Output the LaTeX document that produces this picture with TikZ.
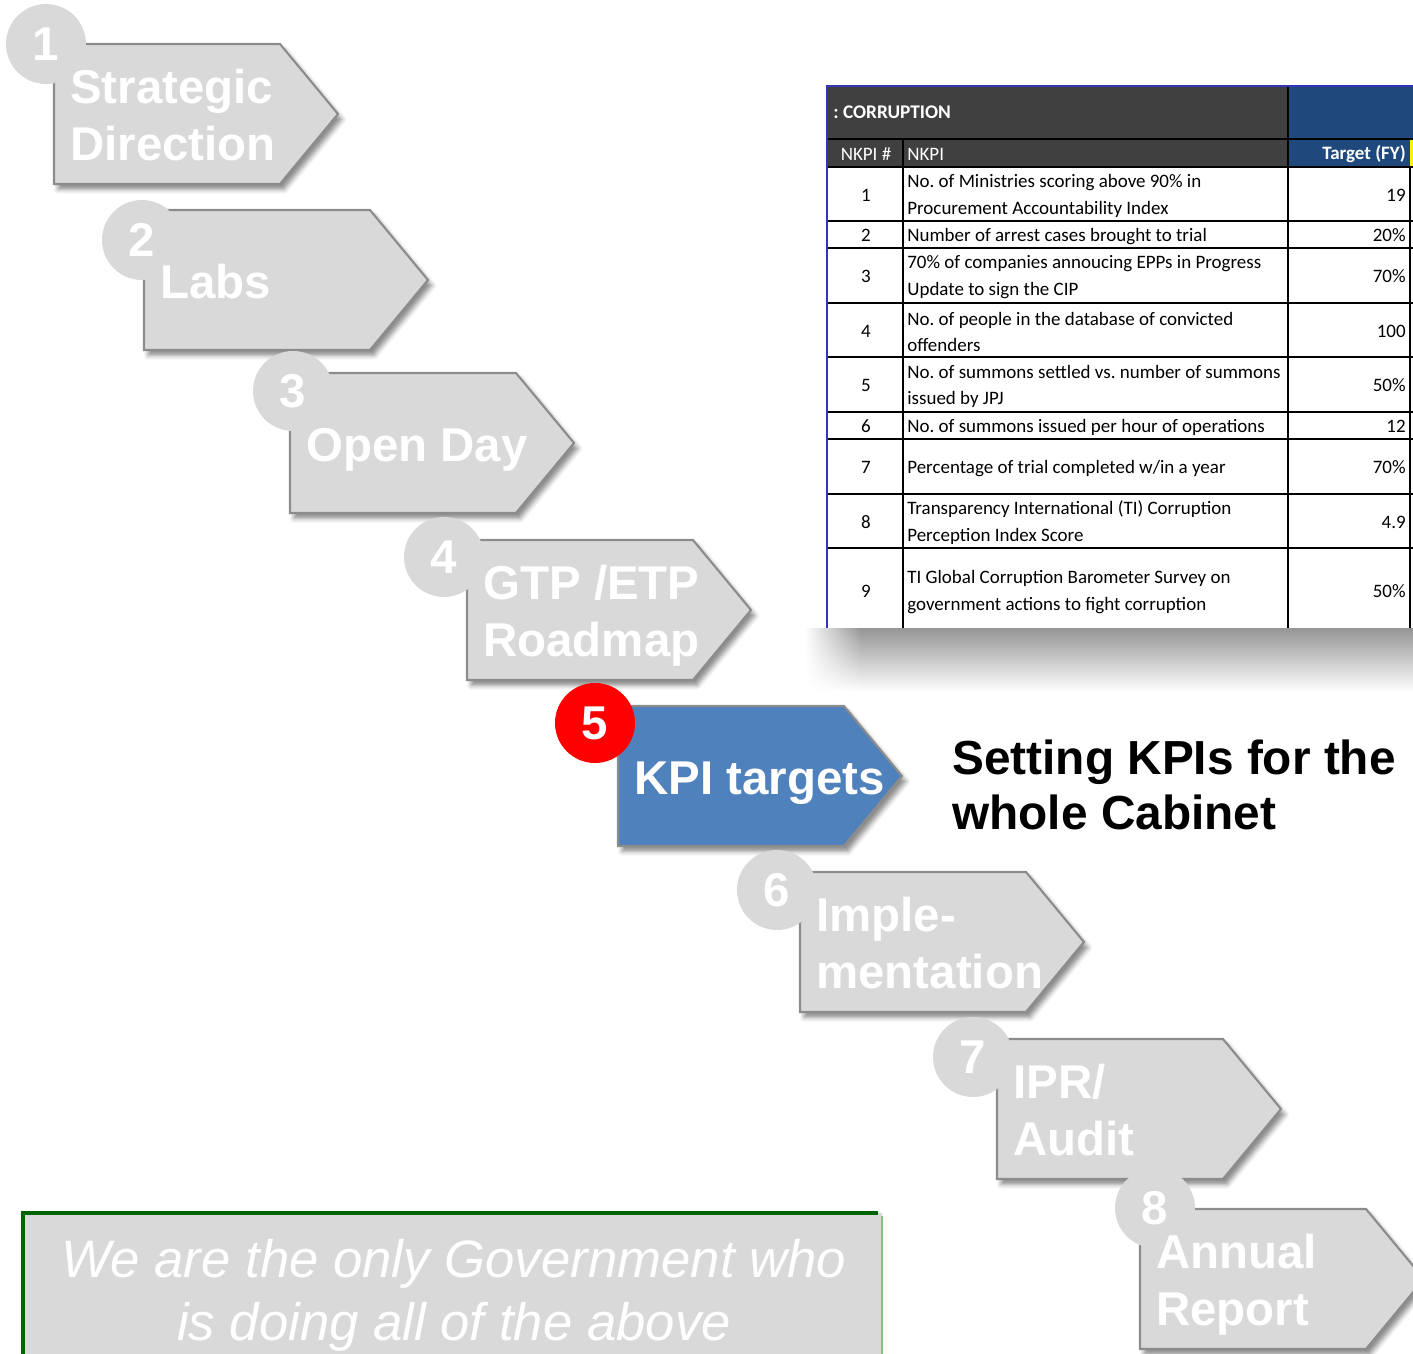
\documentclass[tikz,border=0pt]{standalone}
\usepackage{fontspec}
\setmainfont{Liberation Sans}
\newfontfamily\tablefont{Carlito}
\usetikzlibrary{shadows.blur,fadings}
\frenchspacing

\definecolor{stepgray}{HTML}{D9D9D9}
\definecolor{stepedge}{HTML}{8C8C8C}
\definecolor{kpiblue}{HTML}{4F81BD}
\definecolor{hdgray}{HTML}{404040}
\definecolor{hdblue}{HTML}{1F497D}
\definecolor{tableedge}{HTML}{3535B5}
\definecolor{shadowgray}{HTML}{959595}
\definecolor{quotegreen}{HTML}{006400}
\definecolor{lightgreen}{HTML}{7CC47C}

\tikzfading[name=shadowleft, left color=transparent!100, right color=transparent!0]

\tikzset{
  stepshape/.style={draw=stepedge, line width=1.2pt,
    blur shadow={shadow xshift=0.8mm, shadow yshift=-1.1mm, shadow blur radius=0.9mm, shadow opacity=45}},
  steplabel/.style={anchor=west, inner sep=0pt, align=left, text=white,
    font=\fontsize{27}{32.3}\selectfont\bfseries},
  stepnum/.style={circle, inner sep=0pt, minimum size=1.6cm, text=white,
    font=\fontsize{27}{32}\selectfont\bfseries},
  cell/.style={inner sep=0pt, font=\tablefont\fontsize{10.8}{15.3}\selectfont},
}

\begin{document}
\begin{tikzpicture}[x=0.02cm, y=-0.02cm]
\useasboundingbox (0,0) rectangle (1413,1354);

% steps
\foreach \i/\x/\y/\cx/\cy/\dy/\fc/\cc/\lab in {
  1/54/44/45/44/71/stepgray/stepgray/{Strategic\\Direction},
  2/144/210/141/240/72/stepgray/stepgray/{Labs},
  3/290/373/292/391/77/stepgray/stepgray/{Open Day},
  4/467/540/443/557/76/stepgray/stepgray/{GTP /ETP\\Roadmap},
  5/618/706/594/723/77/kpiblue/red/{KPI targets},
  6/800/872/776/890/71/stepgray/stepgray/{Imple-\\mentation},
  7/997/1039/972/1057/71/stepgray/stepgray/{IPR/\\Audit},
  8/1140/1209/1154/1208/76/stepgray/stepgray/{Annual\\Report}}
{
  \draw[stepshape, fill=\fc] (\x,\y) -- ++(226,0) -- ++(58,70) -- ++(-58,70) -- ++(-226,0) -- cycle;
  \node[stepnum, fill=\cc] (num\i) at (\cx+1,\cy) {\i};
  \node[steplabel] (step\i) at (\x+16,\y+\dy) {\lab};
}

\node[anchor=west, inner sep=0pt, align=left, font=\fontsize{27.2}{31.7}\selectfont\bfseries]
  (title) at (952,785) {Setting KPIs for the\\whole Cabinet};

% KPI table
\shade[top color=shadowgray, bottom color=white] (860,628) rectangle (1413,692);
\shade[top color=shadowgray, bottom color=white, path fading=shadowleft] (805,628) rectangle (861,692);
\fill[white] (827,86) rectangle (1413,628);
\fill[hdgray] (827,86) rectangle (1288,167);
\fill[hdblue] (1288,86) rectangle (1413,167);
\fill[yellow] (1410,139) rectangle (1413,167);
\foreach \yy in {139,167,221,248,303,357,412,439,494,548}
  \draw[line width=0.8pt] (827,\yy) -- (1413,\yy);
\draw[line width=0.8pt] (903,139) -- (903,628);
\draw[line width=0.8pt] (1288,86) -- (1288,628);
\draw[line width=0.8pt] (1410,167) -- (1410,628);
\draw[tableedge, line width=1pt] (827,628) -- (827,86) -- (1413,86);

\node[cell, anchor=west, text=white, font=\tablefont\bfseries\fontsize{11}{13}\selectfont]
  (sheet) at (833,112) {: CORRUPTION};
\node[cell, text=white] (hdno) at (866,154) {NKPI \#};
\node[cell, anchor=west, text=white] (hdname) at (907,154) {NKPI};
\node[cell, anchor=east, text=white, font=\tablefont\bfseries\fontsize{10.8}{13}\selectfont]
  (hdval) at (1406,154) {Target (FY)};

\foreach \n/\ya/\yb/\txt/\val in {
  1/167/221/{No. of Ministries scoring above 90\% in\\Procurement Accountability Index}/19,
  2/221/248/{Number of arrest cases brought to trial}/20\%,
  3/248/303/{70\% of companies annoucing EPPs in Progress\\Update to sign the CIP}/70\%,
  4/303/357/{No. of people in the database of convicted\\offenders}/100,
  5/357/412/{No. of summons settled vs. number of summons\\issued by JPJ}/50\%,
  6/412/439/{No. of summons issued per hour of operations}/12,
  7/439/494/{Percentage of trial completed w/in a year}/70\%,
  8/494/548/{Transparency International (TI) Corruption\\Perception Index Score}/4.9,
  9/548/632/{TI Global Corruption Barometer Survey on\\government actions to fight corruption}/50\%}
{
  \node[cell] (no\n) at (866,{(\ya+\yb)/2+1}) {\n};
  \node[cell, anchor=west, align=left] (kpi\n) at (907,{(\ya+\yb)/2+2}) {\txt};
  \node[cell, anchor=east] (val\n) at (1406,{(\ya+\yb)/2+1}) {\val};
}

% bottom remark
\fill[stepgray] (23,1213) rectangle (882,1360);
\draw[lightgreen, line width=1.5pt] (882,1216) -- (882,1360);
\draw[quotegreen, line width=2pt] (23,1360) -- (23,1213) -- (878,1213);
\node[inner sep=0pt, align=center, text=white, font=\fontsize{30}{36}\selectfont\itshape]
  (remark) at (454,1295) {We are the only Government who\\is doing all of the above};
\end{tikzpicture}
\end{document}
